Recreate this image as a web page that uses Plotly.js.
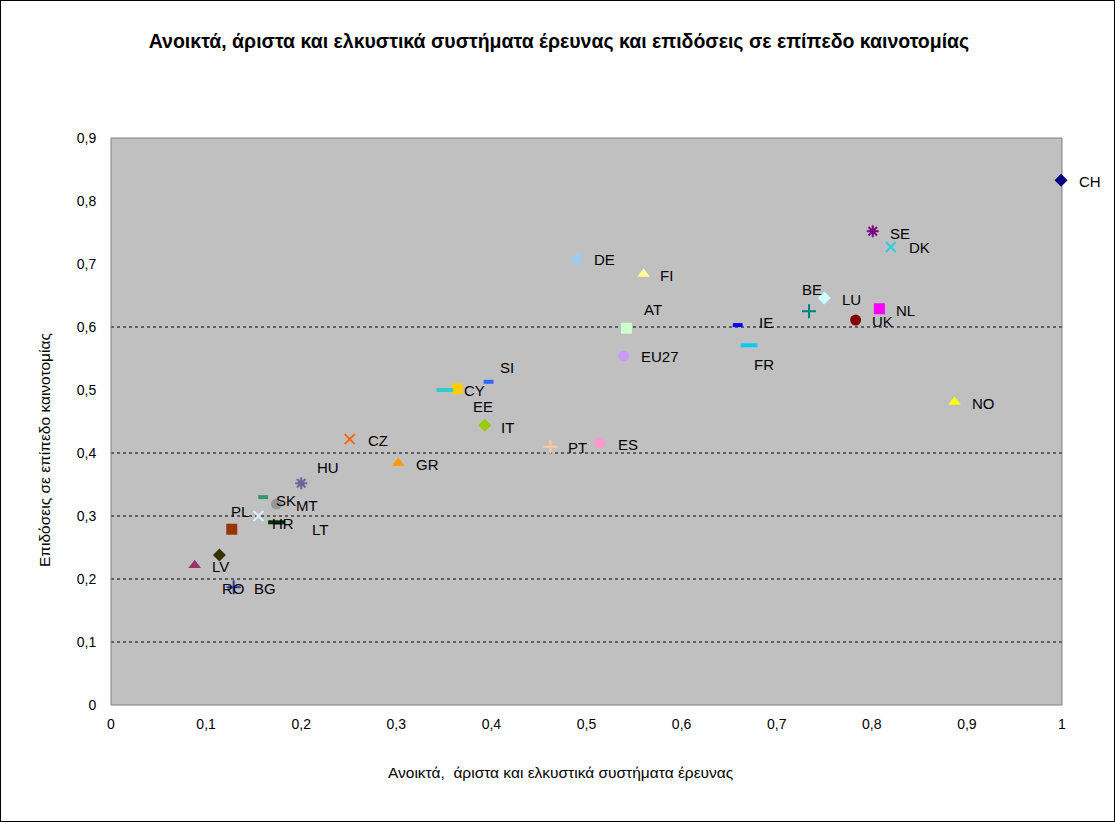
<!DOCTYPE html>
<html>
<head>
<meta charset="utf-8">
<script src="https://cdn.plot.ly/plotly-3.0.1.min.js"></script>
<style>
  html, body { margin: 0; padding: 0; background: #fff; }
  #chart { width: 1115px; height: 822px; box-sizing: border-box; border: 1px solid #000; }
</style>
</head>
<body>
<div id="chart"></div>
<script>
// ---- data ----
const countries = ["CH","SE","DK","DE","FI","LU","BE","NL","UK","IE","FR","AT","EU27","NO","SI","CY","EE","IT","CZ","PT","ES","GR","HU","SK","MT","PL","HR","LT","LV","BG","RO"];
const xValues = [0.999,0.801,0.820,0.490,0.560,0.750,0.734,0.808,0.783,0.659,0.671,0.542,0.539,0.887,0.397,0.364,0.351,0.393,0.251,0.462,0.514,0.302,0.200,0.160,0.174,0.155,0.174,0.127,0.114,0.088,0.129];
const yValues = [0.833,0.752,0.727,0.708,0.684,0.646,0.625,0.629,0.611,0.603,0.571,0.598,0.554,0.481,0.513,0.502,0.500,0.444,0.422,0.410,0.416,0.384,0.352,0.330,0.319,0.300,0.290,0.279,0.238,0.222,0.187];
const xTickValues = [0,0.1,0.2,0.3,0.4,0.5,0.6,0.7,0.8,0.9,1];
const yTickValues = [0,0.1,0.2,0.3,0.4,0.5,0.6,0.7,0.8,0.9];
const gridLevels = [0.1,0.2,0.3,0.4,0.6];

// ---- styles ----
const symbols = ["diamond","asterisk-open","x-thin-open","asterisk-open","triangle-up","diamond","cross-thin-open","square","circle","line-ew-open","line-ew-open","square","circle","triangle-up","line-ew-open","square","line-ew-open","diamond","x-thin-open","cross-thin-open","circle","triangle-up","asterisk-open","line-ew-open","circle","x-thin-open","line-ew-open","square","diamond","triangle-up","cross-thin-open"];
const colors = ["#000080","#800080","#33CCDD","#99CCFF","#FFFF99","#CCFFFF","#008080","#FF00FF","#800000","#0000FF","#00CCFF","#CCFFCC","#CC99FF","#FFFF00","#3366FF","#FFCC00","#33CCCC","#99CC00","#FF6600","#FFCC99","#FF99CC","#FF9900","#666699","#339966","#969696","#DDEEFF","#003300","#993300","#333300","#993366","#333399"];
const sizes = [10,10,10,10,11,10,10,11,11,7,12,11,11,11,7,11,12,10,10,10,11,11,10,7,11,10,12,11,10,11,10];
const lineWidths = symbols.map(s => s === "line-ew-open" ? 4 : (s.endsWith("-open") ? 2 : 0));
const labelDx = [29,27,29,28,23,27,3,26,27,28,15,27,36,29,18,17,38,23,28,27,28,29,27,23,31,-18,7,88,1,70,0];
const labelDy = [1,2,1,1,1,1,-22,2,1,-3,19,-19,1,2,-14,2,16,2,1,1,2,1,-16,3,1,-5,1,0,11,23,1];

const font = "Liberation Sans, Arial, sans-serif";

const trace = {
  type: "scatter",
  mode: "markers",
  x: xValues,
  y: yValues,
  text: countries,
  hoverinfo: "text+x+y",
  showlegend: false,
  marker: {
    symbol: symbols,
    color: colors,
    size: sizes,
    opacity: 1,
    line: { color: colors, width: lineWidths }
  },
  cliponaxis: false
};

const annotations = countries.map((c, i) => ({
  x: xValues[i], y: yValues[i], xref: "x", yref: "y",
  text: c, showarrow: false,
  xanchor: "center", yanchor: "middle",
  xshift: labelDx[i], yshift: -labelDy[i],
  font: { family: font, size: 15, color: "#000" }
}));

annotations.push({
  xref: "paper", yref: "paper", x: (560 - 111) / 951, y: (705 - 772) / 567,
  text: "Ανοικτά,  άριστα και ελκυστικά συστήματα έρευνας",
  showarrow: false, xanchor: "center", yanchor: "middle",
  font: { family: font, size: 15.5, color: "#000" }
});
annotations.push({
  xref: "paper", yref: "paper", x: (44 - 111) / 951, y: (705 - 450) / 567,
  text: "Επιδόσεις σε επίπεδο καινοτομίας",
  textangle: -90,
  showarrow: false, xanchor: "center", yanchor: "middle",
  font: { family: font, size: 15.5, color: "#000" }
});

const shapes = gridLevels.map(v => ({
  type: "line", xref: "paper", yref: "y", x0: 0, x1: 1, y0: v, y1: v,
  line: { color: "#000", width: 1, dash: "dot" }, layer: "below"
}));
shapes.push({
  type: "rect", xref: "paper", yref: "paper", x0: 0, x1: 1, y0: 0, y1: 1,
  line: { color: "#808080", width: 1 }, layer: "below"
});

const layout = {
  width: 1113,
  height: 820,
  margin: { l: 110, r: 52, t: 137, b: 116 },
  paper_bgcolor: "#FFFFFF",
  plot_bgcolor: "#C0C0C0",
  separators: ",.",
  title: {
    text: "<b>Ανοικτά, άριστα και ελκυστικά συστήματα έρευνας και επιδόσεις σε επίπεδο καινοτομίας</b>",
    x: 558 / 1113, xanchor: "center", xref: "container",
    y: 1 - 40 / 820, yanchor: "middle", yref: "container",
    font: { family: font, size: 19.5, color: "#000" }
  },
  xaxis: {
    range: [0, 1], tickvals: xTickValues,
    showgrid: false, zeroline: false, showline: false,
    ticks: "outside", ticklen: 6, tickcolor: "rgba(0,0,0,0)",
    tickfont: { family: font, size: 14, color: "#000" }
  },
  yaxis: {
    range: [0, 0.9], tickvals: yTickValues,
    showgrid: false, zeroline: false, showline: false,
    ticks: "outside", ticklen: 11, tickcolor: "rgba(0,0,0,0)",
    tickfont: { family: font, size: 14, color: "#000" }
  },
  annotations: annotations,
  shapes: shapes,
  hovermode: "closest"
};

Plotly.newPlot("chart", [trace], layout, { displayModeBar: false });
</script>
</body>
</html>
